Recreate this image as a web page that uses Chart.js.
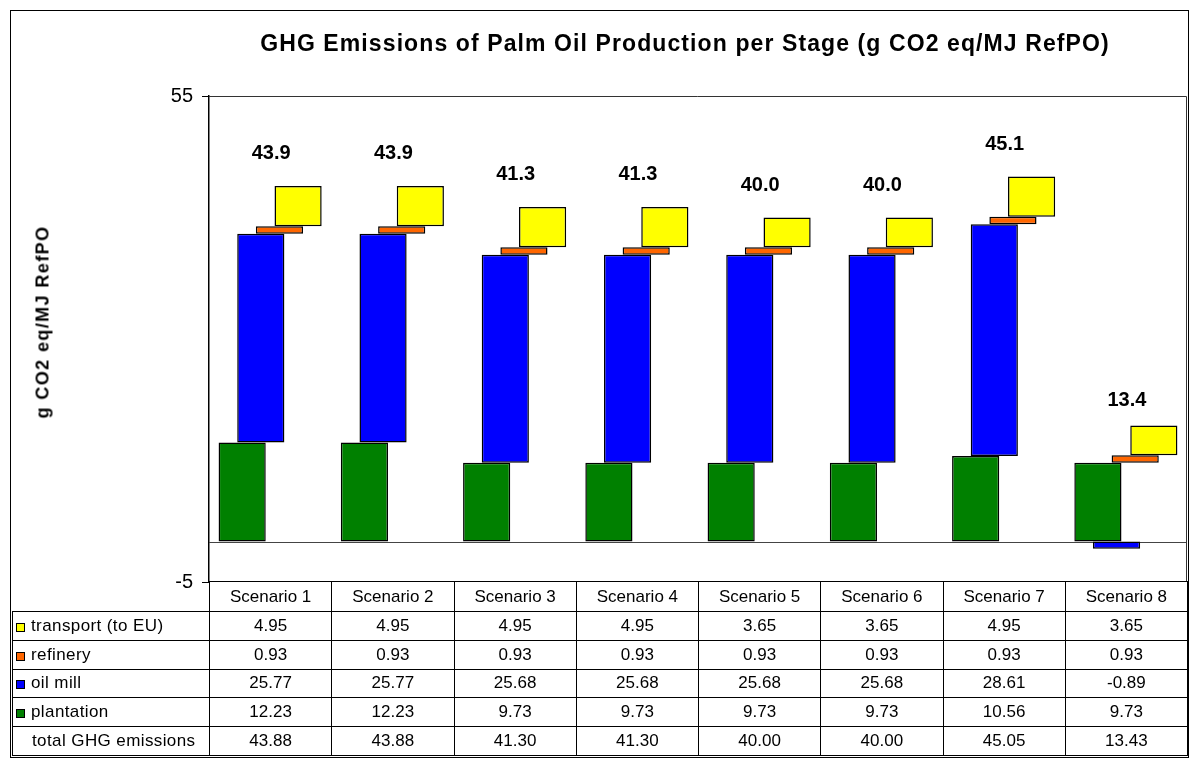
<!DOCTYPE html>
<html>
<head>
<meta charset="utf-8">
<script src="https://cdn.jsdelivr.net/npm/chart.js@4.4.0/dist/chart.umd.min.js"></script>
<style>
  html, body { margin: 0; padding: 0; background: #fff; }
  #wrap { position: relative; width: 1190px; height: 758px; overflow: hidden; font-family: "Liberation Sans", Arial, sans-serif; color: #000; }
  #frame { position: absolute; left: 10px; top: 10px; width: 1179px; height: 748px; border: 1px solid #000; box-sizing: border-box; }
  #chart { position: absolute; left: 0; top: 0; }
  #title { position: absolute; left: 185px; top: 32px; width: 1000px; text-align: center; font-weight: bold; font-size: 23px; line-height: 23px; letter-spacing: 1.1px; white-space: nowrap; }
  #ytitle { position: absolute; left: 43px; top: 322px; transform: translate(-50%, -50%) rotate(-90deg); font-weight: bold; font-size: 18px; letter-spacing: 1.4px; white-space: nowrap; }
  #table { position: absolute; left: 12px; top: 581px; width: 1175px; border-collapse: collapse; table-layout: fixed; font-size: 17px; }
  #table td { border: 1px solid #000; padding: 0; text-align: center; white-space: nowrap; }
  #table tr.head td { height: 29px; }
  #table tr.body td { height: 27.8px; }
  #table td.blank { border-top: none; border-left: none; }
  #table td.name { text-align: left; padding-left: 3px; letter-spacing: 0.4px; }
  .key { display: inline-block; width: 7px; height: 7px; border: 1.5px solid #000; margin-right: 6px; vertical-align: -1px; }
  .nokey { display: inline-block; width: 10px; margin-right: 6px; }
</style>
</head>
<body>
<div id="wrap">
  <div id="frame"></div>
  <canvas id="chart" width="1190" height="758"></canvas>
  <div id="title">GHG Emissions of Palm Oil Production per Stage (g CO2 eq/MJ RefPO)</div>
  <div id="ytitle">g CO2 eq/MJ RefPO</div>
  <table id="table"></table>
</div>
<script>
const scenarios = ['Scenario 1', 'Scenario 2', 'Scenario 3', 'Scenario 4', 'Scenario 5', 'Scenario 6', 'Scenario 7', 'Scenario 8'];
const plantation = [12.23, 12.23, 9.73, 9.73, 9.73, 9.73, 10.56, 9.73];
const oilMill = [25.77, 25.77, 25.68, 25.68, 25.68, 25.68, 28.61, -0.89];
const refinery = [0.93, 0.93, 0.93, 0.93, 0.93, 0.93, 0.93, 0.93];
const transport = [4.95, 4.95, 4.95, 4.95, 3.65, 3.65, 4.95, 3.65];
const totals = [43.88, 43.88, 41.30, 41.30, 40.00, 40.00, 45.05, 13.43];
const yTicks = [-5, 55];

const FONT = '"Liberation Sans", Arial, sans-serif';

// stages in drawing order (left to right inside each scenario)
const stages = [
    { label: 'plantation', values: plantation, color: '#008000' },
    { label: 'oil mill', values: oilMill, color: '#0000FF' },
    { label: 'refinery', values: refinery, color: '#FF6600' },
    { label: 'transport (to EU)', values: transport, color: '#FFFF00' }
];

// floating bars: positives stack up from 0, negatives stack down from 0
const posTop = scenarios.map(() => 0);
const negTop = scenarios.map(() => 0);
const datasets = stages.map(s => ({
    label: s.label,
    data: s.values.map((v, i) => {
        let r;
        if (v >= 0) { r = [posTop[i], posTop[i] + v]; posTop[i] += v; }
        else { r = [negTop[i], negTop[i] + v]; negTop[i] += v; }
        return r;
    }),
    backgroundColor: s.color,
    borderColor: '#000',
    borderWidth: 1.5,
    borderSkipped: false,
    categoryPercentage: 0.61,
    barPercentage: 2.53
}));

const fmt1 = v => (Math.round(v * 10 + 1e-6) / 10).toFixed(1);

const extras = {
    id: 'extras',
    beforeDatasetsDraw(chart) {
        const { ctx, chartArea: a, scales: { y } } = chart;
        ctx.save();
        const y0 = Math.round(y.getPixelForValue(0)) + 0.5;
        ctx.strokeStyle = '#444';
        ctx.lineWidth = 1;
        ctx.beginPath();
        ctx.moveTo(a.left, y0);
        ctx.lineTo(a.right, y0);
        ctx.stroke();
        // plot area frame (top + right)
        ctx.strokeStyle = '#333';
        ctx.beginPath();
        ctx.moveTo(a.left, a.top + 0.5);
        ctx.lineTo(a.right - 0.5, a.top + 0.5);
        ctx.lineTo(a.right - 0.5, a.bottom);
        ctx.stroke();
        ctx.restore();
    },
    afterDatasetsDraw(chart) {
        const { ctx, scales: { x, y } } = chart;
        ctx.save();
        ctx.font = 'bold 20px ' + FONT;
        ctx.fillStyle = '#000';
        ctx.textAlign = 'center';
        ctx.textBaseline = 'alphabetic';
        totals.forEach((t, i) => {
            ctx.fillText(fmt1(t), x.getPixelForValue(i) + 1, y.getPixelForValue(t) - 27);
        });
        ctx.restore();
    }
};

new Chart(document.getElementById('chart').getContext('2d'), {
    type: 'bar',
    data: { labels: scenarios, datasets: datasets },
    options: {
        responsive: false,
        animation: false,
        layout: { padding: { top: 96, bottom: 176, left: 0, right: 3 } },
        plugins: { legend: { display: false }, tooltip: { enabled: false }, title: { display: false } },
        scales: {
            x: { display: false },
            y: {
                min: -5,
                max: 55,
                afterBuildTicks: s => { s.ticks = yTicks.map(v => ({ value: v })); },
                afterFit: s => { s.width = 209; },
                ticks: { color: '#000', padding: 9, font: { family: FONT, size: 20 } },
                grid: { drawOnChartArea: false, drawTicks: true, tickLength: 7, color: '#000', lineWidth: 1 },
                border: { display: true, color: '#000', width: 1.5 }
            }
        }
    },
    plugins: [extras]
});

// data table under the plot
function buildTable() {
    const table = document.getElementById('table');
    let html = '<colgroup><col style="width:197px">' + scenarios.map(() => '<col style="width:122.25px">').join('') + '</colgroup>';
    html += '<tr class="head"><td class="blank"></td>' + scenarios.map(s => `<td>${s}</td>`).join('') + '</tr>';
    const rows = stages.slice().reverse().map(s => ({ label: s.label, color: s.color, values: s.values }));
    rows.push({ label: 'total GHG emissions', color: null, values: totals });
    rows.forEach(r => {
        const key = r.color ? `<span class="key" style="background:${r.color}"></span>` : '<span class="nokey"></span>';
        html += `<tr class="body"><td class="name">${key}${r.label}</td>` + r.values.map(v => `<td>${v.toFixed(2)}</td>`).join('') + '</tr>';
    });
    table.innerHTML = html;
}
buildTable();
</script>
</body>
</html>
